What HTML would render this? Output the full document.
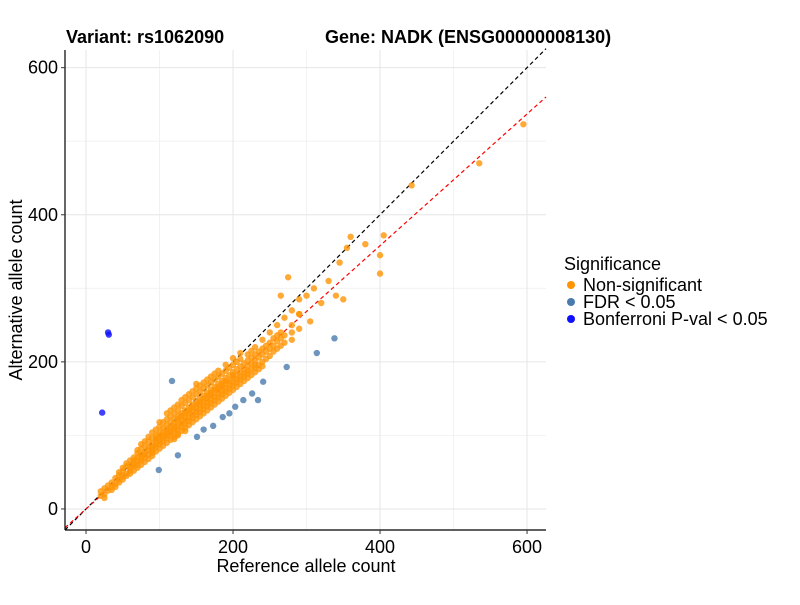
<!DOCTYPE html>
<html><head><meta charset="utf-8">
<style>
body{margin:0;background:#fff;}
svg text{font-family:"Liberation Sans",sans-serif;}
</style></head>
<body>
<svg id="chart" width="800" height="600" xmlns="http://www.w3.org/2000/svg">
<rect width="800" height="600" fill="#fff"/>
<g id="grid"></g>
<g id="lines"></g>
<g id="pts"></g>
<g id="axes"></g>
<text x="66" y="43" font-size="18" font-weight="bold">Variant: rs1062090</text>
<text x="325" y="43" font-size="18" font-weight="bold">Gene: NADK (ENSG00000008130)</text>
<text x="306" y="572" font-size="18" text-anchor="middle">Reference allele count</text>
<text transform="translate(22,290) rotate(-90)" font-size="18" text-anchor="middle">Alternative allele count</text>
<g>
<text x="564" y="270" font-size="18">Significance</text>
<g><circle cx="571" cy="285" r="4" fill="#FF9505"/><text x="583" y="291" font-size="18">Non-significant</text></g>
<g><circle cx="571" cy="302" r="4" fill="#4A7BAD"/><text x="583" y="308" font-size="18">FDR &lt; 0.05</text></g>
<g><circle cx="571" cy="319" r="4" fill="#1010FF"/><text x="583" y="325" font-size="18">Bonferroni P-val &lt; 0.05</text></g>
</g>
</svg>
<script>
const xTicks=[0,200,400,600];
const yTicks=[0,200,400,600];
const cloudGroups=[
[20,[18,24]],[25,[20,28,15]],[30,[25,32]],[35,[30,36,26]],[40,[34,42,30]],[45,[40,46,36,50]],
[50,[44,52,40,56]],[55,[48,58,45,62]],[60,[52,60,48,66,56]],[65,[58,66,52,70,62]],
[70,[60,70,56,76,65,80]],[75,[66,74,60,82,70,88]],[80,[70,78,64,86,74,92]],[85,[74,84,68,92,80,98]],
[90,[80,88,72,96,84,104,76]],[95,[84,92,78,100,88,108,96]],[100,[88,96,82,104,92,112,100,118]],
[105,[92,100,86,110,96,118,104]],[110,[96,104,90,114,100,122,108,130]],[115,[100,108,94,118,104,126,112,134]],
[120,[104,112,98,122,108,130,116,138,95]],[125,[108,118,102,126,112,134,122,142,100]],
[130,[112,122,106,130,116,140,126,148]],[135,[116,126,110,134,120,144,130,152,106]],
[140,[120,130,114,138,124,148,134,156]],[145,[124,134,118,142,128,152,138,160]],
[150,[128,138,122,146,132,156,142,164,170]],[155,[132,142,126,150,136,160,146,168]],
[160,[136,146,130,154,140,164,150,172]],[165,[140,150,134,158,144,168,154,176]],
[170,[144,154,138,162,148,172,158,180]],[175,[148,158,142,166,152,176,162,184]],
[180,[152,162,146,170,156,180,166,188]],[185,[156,166,150,174,160,184,170]],
[190,[160,170,154,178,164,188,174,196]],[195,[164,174,158,182,168,192]],
[200,[168,178,162,186,172,196,182,205]],[205,[172,182,166,190,176,200]],
[210,[176,186,170,194,180,204,212]],[215,[180,190,174,198,184]],[220,[184,194,178,202,188,210]],
[225,[190,198,182,206,215]],[230,[192,202,186,210,196,220]],[235,[196,206,190,214]],
[240,[200,210,194,218,230]],[245,[204,214,222]],[250,[208,218,226,240]],[255,[214,222,232]],
[260,[218,228,236,250]],[265,[222,232,240]],[270,[226,236,260]],[280,[230,240,250,270]],[290,[245,265,285]]
];
const outlierX=[595,535,443,400,400,405,380,360,355,345,330,320,310,300,275,290,305,340,350,265];
const outlierY=[523,470,440,320,345,372,360,370,355,335,310,280,300,290,315,265,255,290,285,290];
const fdrX=[117,99,125,151,173,186,203,214,226,234,241,273,314,338,160,195];
const fdrY=[174,53,73,98,113,125,139,148,157,148,173,193,212,232,108,130];
const bonfX=[22,30,31];
const bonfY=[131,240,237];

const X0=65,X1=546,Y0=530,Y1=50;
const xmin=-28.6,xmax=625.8,ymin=-28.6,ymax=624;
const sx=v=>X0+(v-xmin)/(xmax-xmin)*(X1-X0);
const sy=v=>Y0-(v-ymin)/(ymax-ymin)*(Y0-Y1);
const NS='http://www.w3.org/2000/svg';
function mk(tag,attrs,parent){const e=document.createElementNS(NS,tag);for(const k in attrs)e.setAttribute(k,attrs[k]);parent.appendChild(e);return e;}
const grid=document.getElementById('grid');
[100,300,500].forEach(v=>{mk('line',{x1:sx(v),x2:sx(v),y1:Y1,y2:Y0,stroke:'#f0f0f0','stroke-width':0.8},grid);mk('line',{x1:X0,x2:X1,y1:sy(v),y2:sy(v),stroke:'#f0f0f0','stroke-width':0.8},grid);});
xTicks.forEach(v=>{const l=mk('line',{x1:sx(v),x2:sx(v),y1:Y1,y2:Y0,stroke:'#e6e6e6','stroke-width':1},grid);

});
yTicks.forEach(v=>{const l=mk('line',{x1:X0,x2:X1,y1:sy(v),y2:sy(v),stroke:'#e6e6e6','stroke-width':1},grid);

});
const lines=document.getElementById('lines');
const d1=mk('line',{x1:sx(xmin),y1:sy(xmin),x2:sx(xmax),y2:sy(xmax),stroke:'#000','stroke-dasharray':'4,3','stroke-width':1.2},lines);


const slope=0.895;
const d2=mk('line',{x1:sx(xmin),y1:sy(xmin*slope),x2:sx(xmax),y2:sy(xmax*slope),stroke:'#ff0000','stroke-dasharray':'4,3','stroke-width':1.2},lines);


const pts=document.getElementById('pts');
function dot(x,y,c,name){const e=mk('circle',{cx:sx(x),cy:sy(y),r:3.2,fill:c,'fill-opacity':0.8},pts);

}
cloudGroups.forEach(g=>g[1].forEach(y=>dot(g[0],y,'#FF9505','point-nonsignificant')));
outlierX.forEach((x,i)=>dot(x,outlierY[i],'#FF9505','point-nonsignificant'));
fdrX.forEach((x,i)=>dot(x,fdrY[i],'#4A7BAD','point-fdr'));
bonfX.forEach((x,i)=>dot(x,bonfY[i],'#1010FF','point-bonferroni'));
const axes=document.getElementById('axes');
mk('line',{x1:X0,x2:X0,y1:Y1,y2:Y0,stroke:'#000','stroke-width':1.2},axes);
mk('line',{x1:X0,x2:X1,y1:Y0,y2:Y0,stroke:'#000','stroke-width':1.2},axes);
xTicks.forEach(v=>{mk('line',{x1:sx(v),x2:sx(v),y1:Y0,y2:Y0+4,stroke:'#333'},axes);
const t=mk('text',{x:sx(v),y:553,'font-size':18,'text-anchor':'middle'},axes);t.textContent=v;

});
yTicks.forEach(v=>{mk('line',{x1:X0-4,x2:X0,y1:sy(v),y2:sy(v),stroke:'#333'},axes);
const t=mk('text',{x:X0-7,y:sy(v)+6,'font-size':18,'text-anchor':'end'},axes);t.textContent=v;

});
</script>
</body></html>
